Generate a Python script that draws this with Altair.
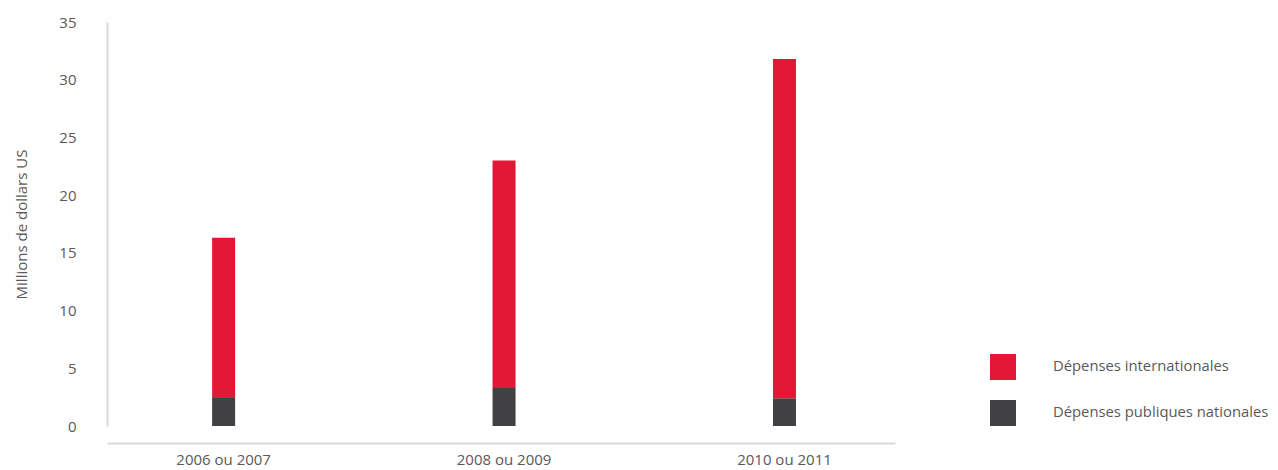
import altair as alt
import pandas as pd

periods = ["2006 ou 2007", "2008 ou 2009", "2010 ou 2011"]
nationales = [2.5, 3.3, 2.4]
internationales = [13.8, 19.7, 29.4]
series = ["Dépenses internationales", "Dépenses publiques nationales"]
colors = ["#e31837", "#414042"]

rows = []
for p, n, i in zip(periods, nationales, internationales):
    rows.append({"periode": p, "serie": series[1], "valeur": n, "ordre": 0})
    rows.append({"periode": p, "serie": series[0], "valeur": i, "ordre": 1})
df = pd.DataFrame(rows)

FONT = "Open Sans"
TXT = "#595959"

chart = alt.Chart(df).mark_bar(size=23).encode(
    x=alt.X("periode:N", sort=periods, title=None,
            scale=alt.Scale(paddingInner=0.5, paddingOuter=0.155, align=0.535),
            axis=alt.Axis(labelAngle=0, ticks=False, domainColor="#d9d9d9",
                          domainWidth=2, offset=17, labelPadding=9,
                          labelFontSize=15, labelColor=TXT, labelFont=FONT)),
    y=alt.Y("valeur:Q", stack="zero", title="Millions de dollars US",
            scale=alt.Scale(domain=[0, 35], nice=False),
            axis=alt.Axis(values=[0, 5, 10, 15, 20, 25, 30, 35], grid=False,
                          ticks=False, domainColor="#d9d9d9", domainWidth=2,
                          labelPadding=31, labelFontSize=15, labelColor=TXT,
                          labelFont=FONT, titleFont=FONT, titleFontSize=15,
                          titleFontWeight="normal", titleColor=TXT,
                          titlePadding=29)),
    color=alt.Color("serie:N", sort=series,
                    scale=alt.Scale(domain=series, range=colors),
                    legend=alt.Legend(title=None, orient="none", legendX=883,
                                      legendY=332, symbolType="square",
                                      symbolSize=676, symbolStrokeWidth=0,
                                      labelFont=FONT, labelFontSize=14.8,
                                      labelColor=TXT, labelOffset=37,
                                      labelLimit=400,
                                      rowPadding=20, padding=0)),
    order=alt.Order("ordre:Q", sort="ascending"),
).properties(
    width=788, height=404,
    autosize=alt.AutoSizeParams(type="none"),
    padding={"left": 99, "top": 14, "right": 375, "bottom": 50},
).configure_view(stroke=None)

chart.save("out.html", embed_options={"renderer": "svg", "actions": False})
